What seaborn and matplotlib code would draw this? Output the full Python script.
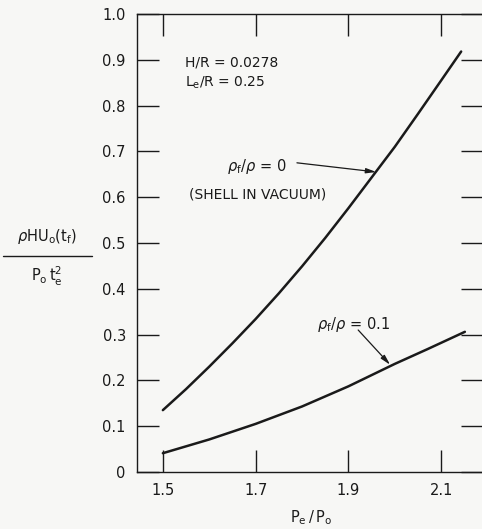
import pandas as pd
import matplotlib
matplotlib.use('Agg')
import matplotlib.pyplot as plt
import seaborn as sns
from matplotlib.lines import Line2D

# Curve readings (P_e/P_o vs nondimensional response)
pe_vacuum = [1.5, 1.55, 1.6, 1.65, 1.7, 1.75, 1.8, 1.85, 1.9, 1.95, 2.0, 2.05, 2.1, 2.143]
resp_vacuum = [0.135, 0.181, 0.23, 0.281, 0.334, 0.39, 0.449, 0.511, 0.576, 0.643,
               0.71, 0.782, 0.855, 0.918]

pe_fluid = [1.5, 1.6, 1.7, 1.8, 1.9, 2.0, 2.07, 2.151]
resp_fluid = [0.041, 0.071, 0.105, 0.143, 0.187, 0.236, 0.268, 0.306]

x_ticks = [1.5, 1.7, 1.9, 2.1]
x_labels = ['1.5', '1.7', '1.9', '2.1']
y_ticks = [0, 0.1, 0.2, 0.3, 0.4, 0.5, 0.6, 0.7, 0.8, 0.9, 1.0]
y_labels = ['0', '0.1', '0.2', '0.3', '0.4', '0.5', '0.6', '0.7', '0.8', '0.9', '1.0']

df = pd.concat([
    pd.DataFrame({'pe': pe_vacuum, 'resp': resp_vacuum, 'case': 'vacuum'}),
    pd.DataFrame({'pe': pe_fluid, 'resp': resp_fluid, 'case': 'fluid'}),
])

sns.set_style('ticks')
plt.rcParams['font.family'] = ['DejaVu Sans']
plt.rcParams['mathtext.default'] = 'regular'

bg = '#f7f7f5'
ink = '#1a1a1a'

fig = plt.figure(figsize=(4.82, 5.29), dpi=100, facecolor=bg)
ax = fig.add_axes([0.284, 0.1078, 0.718, 0.8658], facecolor=bg)

sns.lineplot(data=df, x='pe', y='resp', units='case', estimator=None,
             color=ink, lw=1.8, ax=ax, sort=False)
for ln in ax.lines:
    ln.set_solid_joinstyle('round')

ax.set_xlim(1.444, 2.19)
ax.set_ylim(0, 1.0)
ax.set_xticks(x_ticks)
ax.set_xticklabels(x_labels)
ax.set_yticks(y_ticks)
ax.set_yticklabels(y_labels)
ax.tick_params(axis='both', direction='in', length=16, width=1.0, color=ink,
               labelsize=10.5, labelcolor=ink, top=True, right=True, pad=8)
for s in ax.spines.values():
    s.set_color(ink)
    s.set_linewidth(1.0)
ax.set_xlabel('')
ax.set_ylabel('')

# axis titles
fig.text(0.645, 0.021, '$P_e\\,/\\,P_o$', ha='center', va='center', fontsize=10.5, color=ink)
fig.text(0.097, 0.552, '$\\mathit{\\rho} HU_o(t_f)$', ha='center', va='center',
         fontsize=10.5, color=ink)
fig.text(0.097, 0.478, '$P_o\\,t_e^2$', ha='center', va='center', fontsize=10.5, color=ink)
fig.add_artist(Line2D([0.006, 0.19], [0.516, 0.516], color=ink, lw=1.0,
                      transform=fig.transFigure))

# parameter notes
ax.text(1.547, 0.895, 'H/R = 0.0278', fontsize=10, color=ink, va='center')
ax.text(1.547, 0.849, '$L_e$/R = 0.25', fontsize=10, color=ink, va='center')

# curve labels with arrows
arrow = dict(arrowstyle='-|>,head_length=0.6,head_width=0.15', color=ink, lw=0.9,
             shrinkA=0, shrinkB=0)
ax.text(1.638, 0.666, '$\\mathit{\\rho}_f/\\mathit{\\rho}$ = 0', fontsize=10.5, color=ink,
        va='center')
ax.text(1.556, 0.605, '(SHELL IN VACUUM)', fontsize=10, color=ink, va='center')
ax.annotate('', xy=(1.960, 0.655), xytext=(1.789, 0.675), arrowprops=arrow)

ax.text(1.832, 0.321, '$\\mathit{\\rho}_f/\\mathit{\\rho}$ = 0.1', fontsize=10.5, color=ink,
        va='center')
ax.annotate('', xy=(1.990, 0.234), xytext=(1.921, 0.310), arrowprops=arrow)

fig.savefig('out.png', dpi=100, facecolor=bg)
